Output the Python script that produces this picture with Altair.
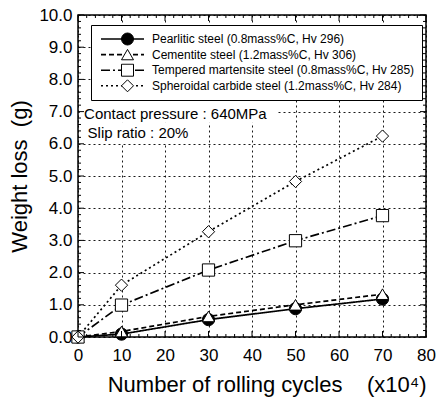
import altair as alt
import pandas as pd

FONT = "Liberation Sans"

# ---- data ----
cycles = [0, 10, 30, 50, 70]
series_names = [
    "Pearlitic steel (0.8mass%C, Hv 296)",
    "Cementite steel (1.2mass%C, Hv 306)",
    "Tempered martensite steel (0.8mass%C, Hv 285)",
    "Spheroidal carbide steel (1.2mass%C, Hv 284)",
]
pearlitic = [0.0, 0.09, 0.54, 0.88, 1.18]
cementite = [0.0, 0.17, 0.64, 1.0, 1.33]
tempered = [0.0, 0.99, 2.08, 2.99, 3.77]
spheroidal = [0.0, 1.61, 3.27, 4.83, 6.24]

x_tick_labels = [0, 10, 20, 30, 40, 50, 60, 70, 80]
y_tick_labels = [0, 1, 2, 3, 4, 5, 6, 7, 8, 9, 10]
x_minor_step = 2
y_minor_step = 0.2

annot_text = ["Contact pressure : 640MPa", "Slip ratio : 20%"]
annot_x = [1.4, 2.2]
annot_y = [6.78, 6.18]

# white backgrounds behind annotation text (data units)
bg_x = [0.4, 0.4]
bg_x2 = [45.8, 29.0]
bg_y = [6.65, 6.0]
bg_y2 = [7.35, 6.65]

shapes = ["circle", "triangle-up", "square", "diamond"]
fills = ["black", "white", "white", "white"]
strokes = ["black", "black", "black", "black"]
dashes = [[1, 0], [5, 3], [9, 3, 2, 3], [2, 3]]

# ---- tables ----
XMIN, XMAX, YMIN, YMAX = 0, 80, 0, 10
values = [pearlitic, cementite, tempered, spheroidal]
shape_keys = [n + "\u200b" for n in series_names]  # separate legend domain
rows = []
for name, key, vals in zip(series_names, shape_keys, values):
    for c, v in zip(cycles, vals):
        rows.append({"cycles": c, "loss": v, "style": name, "series": key})
df = pd.DataFrame(rows)

# inward tick marks (lengths in data units: ~6 px major, ~3 px minor)
xmaj, xmin_ = 6 / 4.35, 3 / 4.35
ymaj, ymin_ = 6 / 32.2, 3 / 32.2
tick_rows = []
n_x = int(round((XMAX - XMIN) / x_minor_step))
for i in range(n_x + 1):
    c = XMIN + i * x_minor_step
    L = ymaj if c in x_tick_labels else ymin_
    tick_rows.append({"cycles": c, "cycles2": c, "loss": YMIN, "loss2": YMIN + L})
    tick_rows.append({"cycles": c, "cycles2": c, "loss": YMAX, "loss2": YMAX - L})
n_y = int(round((YMAX - YMIN) / y_minor_step))
for i in range(n_y + 1):
    v = round(YMIN + i * y_minor_step, 2)
    L = xmaj if i % 5 == 0 else xmin_
    tick_rows.append({"cycles": XMIN, "cycles2": XMIN + L, "loss": v, "loss2": v})
    tick_rows.append({"cycles": XMAX, "cycles2": XMAX - L, "loss": v, "loss2": v})
ticks = pd.DataFrame(tick_rows)

ann = pd.DataFrame({"t": annot_text, "cycles": annot_x, "loss": annot_y})
bg = pd.DataFrame({"cycles": bg_x, "cycles2": bg_x2, "loss": bg_y, "loss2": bg_y2})

xscale = alt.Scale(domain=[XMIN, XMAX], nice=False, zero=False)
yscale = alt.Scale(domain=[YMIN, YMAX], nice=False, zero=False)

xaxis = alt.Axis(
    values=x_tick_labels, labelOverlap=False,
    title="Number of rolling cycles\u00a0\u00a0\u00a0\u00a0(x10\u2074)",
    titleAnchor="end", titlePadding=11, labelPadding=10,
)
yaxis = alt.Axis(
    values=y_tick_labels, format=".1f", labelOverlap=False,
    title="Weight loss\u00a0\u00a0(g)", titlePadding=7, labelPadding=6,
)

X = alt.X("cycles:Q", scale=xscale, axis=xaxis)
Y = alt.Y("loss:Q", scale=yscale, axis=yaxis)

bg_layer = alt.Chart(bg).mark_rect(color="white").encode(
    x=X, x2="cycles2:Q", y=Y, y2="loss2:Q",
)

text_layer = alt.Chart(ann).mark_text(
    align="left", baseline="alphabetic", font=FONT, fontSize=15, color="black"
).encode(x=X, y=Y, text="t:N")

LEG_COMMON = dict(
    orient="none", legendX=13, legendY=10, title=None, direction="vertical",
    symbolSize=144, labelOffset=40, labelFont=FONT, labelFontSize=12,
    labelLimit=400, padding=7, rowPadding=1.6, clipHeight=14,
)

# line part of the legend key; it carries the white boxed frame (drawn first)
line_legend = alt.Legend(
    symbolType="M-0.67,0L6.5,0", symbolStrokeWidth=1.6,
    symbolStrokeColor="black", labelColor="black",
    strokeColor="black", fillColor="white",
    **LEG_COMMON,
)
lines = alt.Chart(df).mark_line(color="black", strokeWidth=1.7).encode(
    x=X, y=Y,
    strokeDash=alt.StrokeDash(
        "style:N", sort=series_names,
        scale=alt.Scale(domain=series_names, range=dashes),
        legend=line_legend,
    ),
)

# marker part of the legend key (drawn on top of the lines, no own labels)
shape_legend = alt.Legend(
    symbolOffset=23, symbolStrokeColor="black", symbolStrokeWidth=1,
    labelExpr="''",
    **LEG_COMMON,
)
points = alt.Chart(df).mark_point(
    filled=True, strokeWidth=1, size=150, opacity=1
).encode(
    x=X, y=Y,
    shape=alt.Shape("series:N", sort=shape_keys,
                    scale=alt.Scale(domain=shape_keys, range=shapes),
                    legend=shape_legend),
    fill=alt.Fill("series:N", sort=shape_keys,
                  scale=alt.Scale(domain=shape_keys, range=fills),
                  legend=shape_legend),
    stroke=alt.Stroke("series:N", sort=shape_keys,
                      scale=alt.Scale(domain=shape_keys, range=strokes),
                      legend=shape_legend),
)

tick_layer = alt.Chart(ticks).mark_rule(color="black", strokeWidth=1).encode(
    x=X, x2="cycles2:Q", y=Y, y2="loss2:Q",
)

chart = alt.layer(
    bg_layer, text_layer, lines, points, tick_layer,
).properties(
    width=348, height=322,
    autosize=alt.AutoSizeParams(type="none"),
    padding={"left": 78, "top": 15, "right": 10, "bottom": 64},
    background="white",
).configure_view(
    stroke="black", strokeWidth=1.5
).configure_axis(
    ticks=False, domain=False, grid=True,
    gridDash=[2, 3], gridColor="black", gridWidth=1, gridOpacity=0.9,
    labelFont=FONT, labelFontSize=17, labelColor="black", labelFlush=False,
    titleFont=FONT, titleFontSize=22, titleFontWeight="normal", titleColor="black",
)

chart.save("out.html", embed_options={"renderer": "svg", "actions": False})
